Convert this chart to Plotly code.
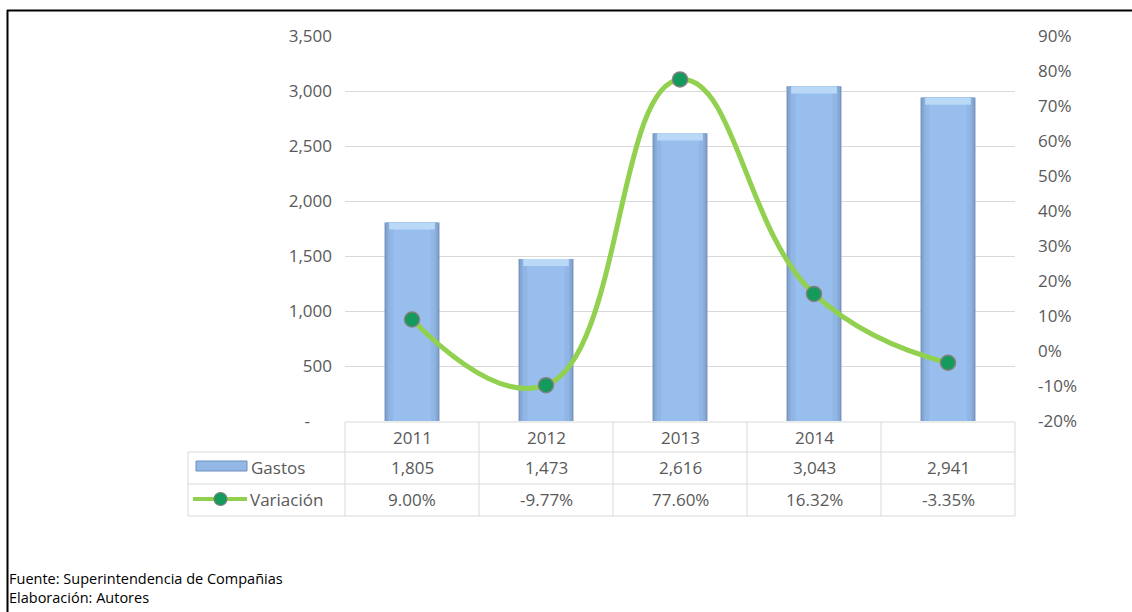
import plotly.graph_objects as go

# ---- data ----
years = ["2011", "2012", "2013", "2014", ""]
gastos = [1805, 1473, 2616, 3043, 2941]
variacion = [9.00, -9.77, 77.60, 16.32, -3.35]  # percent
left_ticks = [0, 500, 1000, 1500, 2000, 2500, 3000, 3500]
left_ticktext = ["-" + "\u00a0" * 5, "500", "1,000", "1,500", "2,000", "2,500", "3,000", "3,500"]
right_ticks = [-20, -10, 0, 10, 20, 30, 40, 50, 60, 70, 80, 90]
right_ticktext = [f"{v}%" for v in right_ticks]
row_labels = ["Gastos", "Variación"]
notes = ["Fuente: Superintendencia de Compañias", "Elaboración: Autores"]

W, H = 1132, 612
FONT = "Open Sans, Lato, sans-serif"
GRAY = "#595959"
GRID = "#D9D9D9"
FS = 17


def px(x):
    return x / W


def py(y):
    return 1 - y / H


xs = list(range(len(years)))
fig = go.Figure()

# bar layers to fake a horizontal gradient
layers = [(0.41, "#7896C0"), (0.385, "#86A9D6"), (0.35, "#90B6E6"), (0.28, "#98BEEE")]
for w, c in layers:
    fig.add_trace(go.Bar(x=xs, y=gastos, width=w, marker=dict(color=c, line=dict(width=0)),
                         hoverinfo="skip", showlegend=False))
# top bevel highlight
fig.add_trace(go.Bar(x=xs, y=[65] * len(gastos), base=[g - 65 for g in gastos], width=0.34,
                     marker=dict(color="#B9D9F7", line=dict(width=0)), hoverinfo="skip", showlegend=False))

# variation line
fig.add_trace(go.Scatter(x=xs, y=variacion, yaxis="y2", mode="lines+markers",
                         line=dict(color="#92D050", width=5, shape="spline", smoothing=1.3),
                         marker=dict(size=15, color="#149A5A", line=dict(color="#808080", width=1.5)),
                         showlegend=False, hoverinfo="skip"))

x0, x1 = 345, 1015
fig.update_layout(
    template="none",
    width=W, height=H, margin=dict(l=0, r=0, t=0, b=0, pad=0), autosize=False,
    paper_bgcolor="white", plot_bgcolor="white",
    barmode="overlay", showlegend=False,
    font=dict(family=FONT, size=FS, color=GRAY),
    xaxis=dict(domain=[px(x0), px(x1)], range=[-0.5, len(years) - 0.5], automargin=False,
               showticklabels=False, showgrid=False, zeroline=False, showline=False, ticks=""),
    yaxis=dict(domain=[py(421), py(36)], range=[0, 3500], tickvals=left_ticks, ticktext=left_ticktext,
               automargin=False,
               showgrid=True, gridcolor=GRID, gridwidth=1, zeroline=False, showline=False,
               ticks="", ticklabelstandoff=12, tickfont=dict(size=FS, color=GRAY)),
    yaxis2=dict(domain=[py(421), py(36)], range=[-20, 90], overlaying="y", side="right",
                automargin=False,
                tickvals=right_ticks, ticktext=right_ticktext, showgrid=False, zeroline=False,
                showline=False, ticks="", ticklabelstandoff=22, tickfont=dict(size=FS, color=GRAY)),
)

shapes = []
line = dict(color=GRID, width=1)
# table horizontal lines
shapes.append(dict(type="line", xref="paper", yref="paper", x0=px(345), x1=px(1015), y0=py(422), y1=py(422), line=line))
for yy in (452, 484, 516):
    shapes.append(dict(type="line", xref="paper", yref="paper", x0=px(188), x1=px(1015), y0=py(yy), y1=py(yy), line=line))
# table vertical lines
shapes.append(dict(type="line", xref="paper", yref="paper", x0=px(188), x1=px(188), y0=py(452), y1=py(516), line=line))
for xx in (345, 479, 613, 747, 881, 1015):
    shapes.append(dict(type="line", xref="paper", yref="paper", x0=px(xx), x1=px(xx), y0=py(422), y1=py(516), line=line))
# legend keys
shapes.append(dict(type="rect", xref="paper", yref="paper", x0=px(196), x1=px(247), y0=py(461), y1=py(471),
                   fillcolor="#93B8E6", line=dict(color="#6F8FBC", width=1)))
shapes.append(dict(type="line", xref="paper", yref="paper", x0=px(193), x1=px(247), y0=py(499), y1=py(499),
                   line=dict(color="#92D050", width=4)))
shapes.append(dict(type="circle", xref="paper", yref="paper", x0=px(214), x1=px(227), y0=py(505.5), y1=py(492.5),
                   fillcolor="#149A5A", line=dict(color="#808080", width=1.2)))
# outer frame (top & left)
shapes.append(dict(type="line", xref="paper", yref="paper", x0=px(7), x1=1, y0=py(10.5), y1=py(10.5),
                   line=dict(color="black", width=2)))
shapes.append(dict(type="line", xref="paper", yref="paper", x0=px(7.5), x1=px(7.5), y0=py(10), y1=0,
                   line=dict(color="black", width=2)))
fig.update_layout(shapes=shapes)

ann = []
tf = dict(family=FONT, size=FS, color=GRAY)
for i, yr in enumerate(years):
    ann.append(dict(x=i, xref="x", y=py(437), yref="paper", text=yr, showarrow=False, font=tf,
                    xanchor="center", yanchor="middle"))
    ann.append(dict(x=i, xref="x", y=py(467), yref="paper", text=f"{gastos[i]:,}", showarrow=False, font=tf,
                    xanchor="center", yanchor="middle"))
    ann.append(dict(x=i, xref="x", y=py(499), yref="paper", text=f"{variacion[i]:.2f}%", showarrow=False, font=tf,
                    xanchor="center", yanchor="middle"))
ann.append(dict(x=px(249), xref="paper", y=py(467), yref="paper", text=row_labels[0], showarrow=False,
                xanchor="left", yanchor="middle", font=tf))
ann.append(dict(x=px(248), xref="paper", y=py(499), yref="paper", text=row_labels[1], showarrow=False,
                xanchor="left", yanchor="middle", font=tf))
ann.append(dict(x=px(8), xref="paper", y=py(588), yref="paper", text="<br>".join(notes), showarrow=False,
                xanchor="left", yanchor="middle", align="left", borderpad=0,
                font=dict(family=FONT, size=14.5, color="black")))
fig.update_layout(annotations=ann)

fig.write_html("out.html", post_script="document.body.style.margin='0';document.body.style.overflow='hidden';")
